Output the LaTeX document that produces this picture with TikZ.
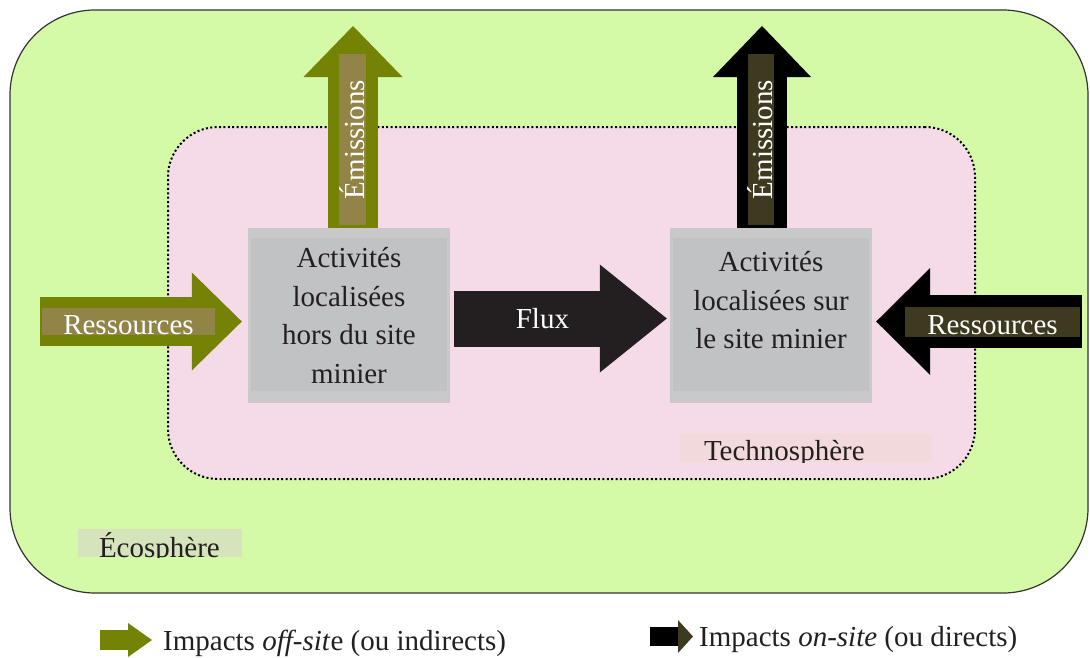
\documentclass[tikz,border=0pt]{standalone}
\usepackage{fontspec}
\setmainfont{Liberation Serif}
\usetikzlibrary{arrows.meta}
\definecolor{ecogreen}{HTML}{D4FAA8}
\definecolor{zoneline}{HTML}{333333}
\definecolor{technopink}{HTML}{F5DAE7}
\definecolor{technotag}{HTML}{F2DADC}
\definecolor{ecotag}{HTML}{D5E4BB}
\definecolor{boxgray}{HTML}{C9C9C9}
\definecolor{boxinner}{HTML}{C1C2C4}
\definecolor{txtdark}{HTML}{231F20}
\definecolor{offcol}{HTML}{748206}
\definecolor{offtag}{HTML}{918446}
\definecolor{oncol}{HTML}{000000}
\definecolor{ontag}{HTML}{3E3A1F}
\definecolor{fluxcol}{HTML}{231F20}
\tikzset{
  font=\fontsize{29}{38.5}\selectfont,
  zone/.style={
    rectangle,
    inner sep=0pt
  },
  zonetag/.style={
    inner ysep=0pt,
    align=left,
    text=txtdark
  },
  actbox/.style={
    fill=boxgray,
    text=txtdark,
    align=center,
    minimum width=202pt,
    minimum height=175pt,
    inner sep=0pt,
    path picture={
      \fill[boxinner] ([xshift=3pt,yshift=-10pt]path picture bounding box.north west)
        rectangle ([xshift=-3pt,yshift=12pt]path picture bounding box.south east);
    }
  },
  blockarrow/.style n args={3}{
    line width=#1,
    -{Triangle[width=#2, length=#3, line width=0pt 0 0]}
  },
  tag/.style={
    inner sep=0pt,
    text=white
  },
  legend/.style={
    inner sep=0pt,
    anchor=base west,
    text=txtdark
  }
}
\begin{document}
\begin{tikzpicture}[x=1pt,y=-1pt]
\useasboundingbox (0,0) rectangle (1090,657);

% --- Zones
\node[zone, fill=ecogreen, draw=zoneline, line width=1.2pt, rounded corners=85pt,
  minimum width=1078pt, minimum height=583pt] (eco) at (549,301.5) {};
\node[zone, fill=technopink, draw=black, line width=2pt, dash pattern=on 2pt off 2.4pt,
  rounded corners=50pt, minimum width=807pt, minimum height=352pt] (techno) at (571.5,303) {};

\begin{scope}
\clip (680,434) rectangle (932,462);
\node[zonetag, fill=technotag, inner xsep=24pt, text width=204pt, minimum height=28pt,
  text height=26pt, text depth=2pt] (technolbl) at (806,448) {Technosphère};
\end{scope}
\begin{scope}
\clip (78,529) rectangle (242,557);
\node[zonetag, fill=ecotag, inner xsep=21pt, text width=122pt, minimum height=28pt,
  text height=28pt, text depth=0pt] (ecolbl) at (160,543) {Écosphère};
\end{scope}

% --- Activities
\node[actbox] (offsite) at (349,315.5) {Activités\\localisées\\hors du site\\minier};
\node[actbox, text depth=30.6pt] (onsite) at (771,315.5) {Activités\\localisées sur\\le site minier};

% --- Free ends of the arrows
\coordinate (resL) at (40,321.5);
\coordinate (resR) at (1082,321.5);
\coordinate (emOff) at (353,26);
\coordinate (emOn) at (762,26);

% --- Arrows
\draw[offcol, blockarrow={49pt}{98pt}{50pt}, shorten >=6pt] (resL) -- (offsite.west |- resL);
\draw[oncol, blockarrow={53pt}{107pt}{54pt}, shorten >=4pt] (resR) -- (onsite.east |- resR);
\draw[offcol, blockarrow={50pt}{99pt}{51pt}] (offsite.north -| emOff) -- (emOff);
\draw[oncol, blockarrow={50pt}{98pt}{51pt}] (onsite.north -| emOn) -- (emOn);
\draw[fluxcol, blockarrow={56pt}{108pt}{67pt}, shorten <=4pt, shorten >=3pt]
  ([yshift=-3pt]offsite.east) -- node[pos=0.42, text=white] (fluxlbl) {Flux} ([yshift=-3pt]onsite.west);

% --- Arrow tags
\node[tag, fill=offtag, minimum width=173pt, minimum height=27pt, text height=26pt, text depth=1pt]
  (resLlbl) at (128.5,321.5) {Ressources};
\node[tag, fill=ontag, minimum width=175pt, minimum height=30pt, text height=27pt, text depth=3pt]
  (resRlbl) at (992.5,322) {Ressources};
\node[tag, fill=offtag, rotate=90, minimum width=171pt, minimum height=27pt, text height=25pt, text depth=2pt]
  (emOfflbl) at (352.5,139.5) {Émissions};
\node[tag, fill=ontag, rotate=90, minimum width=171pt, minimum height=26pt, text height=24pt, text depth=2pt]
  (emOnlbl) at (761,139.5) {Émissions};

% --- Legend
\node[legend] (legoff) at (163,650) {Impacts \textit{off-sit}e (ou indirects)};
\node[legend] (legon) at (699,646) {Impacts \textit{on-site} (ou directs)};
\coordinate (keyoff) at (100,640);
\coordinate (keyon) at (650,636.5);
\draw[offcol, blockarrow={20pt}{34pt}{24pt}, shorten >=11pt] (keyoff) -- (keyoff -| legoff.west);
\draw[oncol, line width=19pt, -{Triangle[width=33pt, length=15pt, line width=0pt 0 0, color=ontag]},
  shorten >=6pt] (keyon) -- (keyon -| legon.west);

\end{tikzpicture}
\end{document}
